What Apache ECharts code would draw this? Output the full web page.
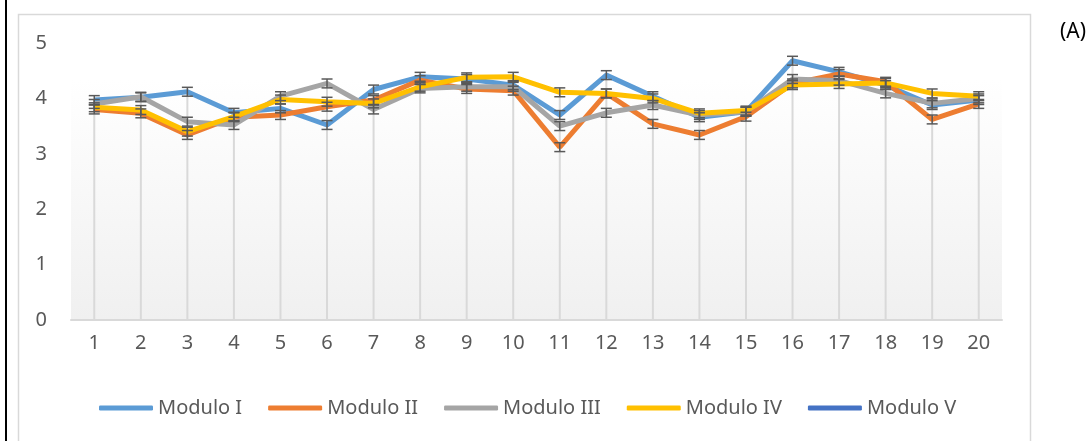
<!DOCTYPE html>
<html>
<head>
<meta charset="utf-8">
<script src="https://cdn.jsdelivr.net/npm/echarts@6/dist/echarts.min.js"></script>
<style>html,body{margin:0;padding:0;background:#fff;}#c{width:1089px;height:441px;}</style>
</head>
<body>
<div id="c"></div>
<script>
const categories = ['1','2','3','4','5','6','7','8','9','10','11','12','13','14','15','16','17','18','19','20'];
const moduloI   = [3.97,4.02,4.12,3.74,3.82,3.52,4.16,4.39,4.35,4.24,3.70,4.42,4.04,3.66,3.76,4.68,4.48,4.24,3.88,3.97];
const moduloII  = [3.80,3.73,3.34,3.66,3.70,3.85,3.97,4.33,4.17,4.14,3.12,4.09,3.54,3.34,3.67,4.27,4.44,4.30,3.62,3.90];
const moduloIII = [3.90,4.03,3.58,3.52,4.04,4.27,3.80,4.18,4.21,4.21,3.50,3.74,3.88,3.70,3.76,4.35,4.32,4.09,3.91,4.00];
const moduloIV  = [3.84,3.79,3.40,3.67,3.98,3.94,3.91,4.21,4.38,4.39,4.11,4.09,4.00,3.73,3.78,4.24,4.26,4.28,4.09,4.04];
const moduloV   = [];
const errorMargin = 0.08;
const yTicks = [0,1,2,3,4,5];

const seriesNames = ['Modulo I','Modulo II','Modulo III','Modulo IV','Modulo V'];
const seriesData = [moduloI, moduloII, moduloIII, moduloIV, moduloV];
const colors = ['#5B9BD5','#ED7D31','#A5A5A5','#FFC000','#4472C4'];
const FONT = 'Noto Sans';

const chart = echarts.init(document.getElementById('c'), null, {renderer:'canvas'});

const dropData = categories.map((c,i)=>{
  const vals = seriesData.filter(a=>a.length).map(a=>a[i]);
  return [i, Math.max.apply(null, vals)];
});

const series = [];
series.push({
  type:'custom', name:'drop', silent:true, z:1,
  data: dropData,
  renderItem: (params, api) => {
    const p1 = api.coord([api.value(0), api.value(1)]);
    const p0 = api.coord([api.value(0), 0]);
    return {type:'line', shape:{x1:p1[0],y1:p1[1],x2:p0[0],y2:p0[1]}, style:{stroke:'#d9d9d9', lineWidth:2}};
  }
});
seriesNames.forEach((n,k)=>{
  series.push({
    type:'line', name:n, data:seriesData[k], symbol:'none', z:3+k,
    lineStyle:{width:5, color:colors[k]}, itemStyle:{color:colors[k]}
  });
});
seriesData.forEach((arr,k)=>{
  if(!arr.length) return;
  series.push({
    type:'custom', name:'err'+k, silent:true, z:10,
    data: arr.map((v,i)=>[i, v-errorMargin, v+errorMargin]),
    renderItem: (params, api) => {
      const lo = api.coord([api.value(0), api.value(1)]);
      const hi = api.coord([api.value(0), api.value(2)]);
      const w = 5.5;
      const st = {stroke:'#595959', lineWidth:1.5};
      return {type:'group', children:[
        {type:'line', shape:{x1:lo[0],y1:lo[1],x2:hi[0],y2:hi[1]}, style:st},
        {type:'line', shape:{x1:lo[0]-w,y1:lo[1],x2:lo[0]+w,y2:lo[1]}, style:st},
        {type:'line', shape:{x1:hi[0]-w,y1:hi[1],x2:hi[0]+w,y2:hi[1]}, style:st}
      ]};
    }
  });
});

chart.setOption({
  animation:false,
  backgroundColor:'#fff',
  textStyle:{fontFamily:FONT},
  title:{text:'(A)', left:1055, top:17, textStyle:{fontFamily:FONT, fontSize:21, fontWeight:'normal', color:'#000'}},
  graphic:[
    {type:'rect', z:-10, shape:{x:5,y:0,width:2,height:441}, style:{fill:'#000'}},
    {type:'rect', z:-10, shape:{x:18.5,y:14.5,width:1012,height:440}, style:{fill:'#fff', stroke:'#d9d9d9', lineWidth:1.5}},
    {type:'rect', z:-9, shape:{x:71,y:80,width:931,height:240},
      style:{fill:new echarts.graphic.LinearGradient(0,0,0,1,[{offset:0,color:'#ffffff'},{offset:1,color:'#f0f0f0'}])}}
  ],
  legend:{
    data:seriesNames, left:94, top:393, icon:'roundRect', itemWidth:54, itemHeight:5, itemGap:26,
    textStyle:{fontFamily:FONT, fontSize:20, color:'#595959'}
  },
  grid:{left:71, right:87, top:43, bottom:121, containLabel:false},
  xAxis:{
    type:'category', data:categories, boundaryGap:true,
    axisLine:{lineStyle:{color:'#d9d9d9', width:2}},
    axisTick:{show:false},
    splitLine:{show:false},
    axisLabel:{fontFamily:FONT, fontSize:20, color:'#595959', margin:13}
  },
  yAxis:{
    type:'value', min:yTicks[0], max:yTicks[yTicks.length-1], interval:1,
    axisLine:{show:false}, axisTick:{show:false}, splitLine:{show:false},
    axisLabel:{fontFamily:FONT, fontSize:20, color:'#595959', margin:24}
  },
  series: series
});
</script>
</body>
</html>
